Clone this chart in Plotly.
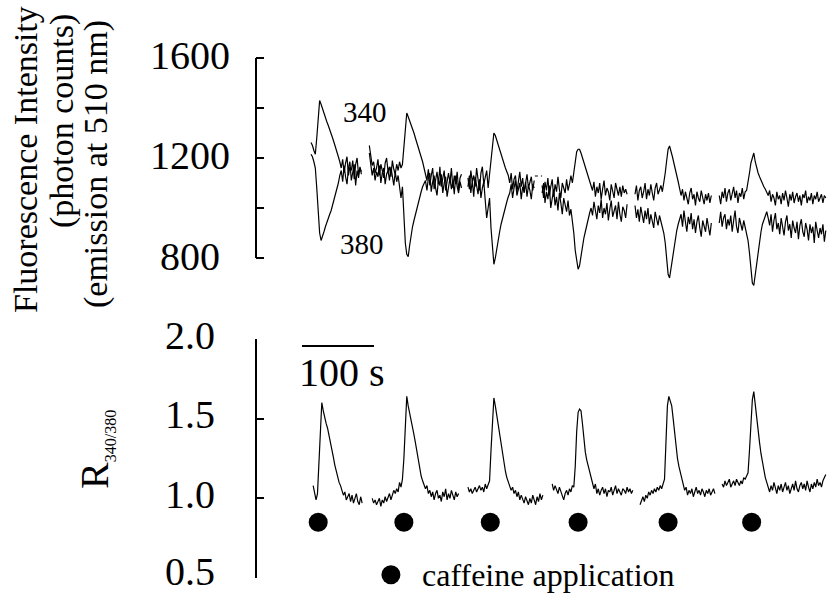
import plotly.graph_objects as go

FONT = "Liberation Serif, Times New Roman, Times, DejaVu Serif, serif"
DT = 2.0  # seconds between samples

# ---------------- data ----------------
# segment start times (s) of the recording pieces
top_starts = [0, 81, 218, 321, 450, 567]
ratio_starts = [3, 85, 218, 335, 457, 571]

# 340 nm excitation (photon counts)
f340 = [
    [1262, 1250, 1230, 1215, 1280, 1370, 1430, 1415, 1395, 1375, 1360, 1345, 1330, 1310, 1295, 1280, 1262, 1245, 1230, 1205, 1185,
     1160, 1195, 1140, 1180, 1205, 1130, 1165, 1150, 1190, 1115, 1175, 1200, 1135, 1160, 1145],
    [1250, 1200, 1170, 1185, 1140, 1160, 1195, 1130, 1175, 1150, 1120, 1180, 1200, 1145, 1165, 1125, 1190, 1155, 1135, 1175, 1150, 1185, 1160,
     1175, 1240, 1330, 1380, 1365, 1350, 1335, 1315, 1300, 1280, 1262, 1245, 1225, 1205, 1185, 1160, 1140,
     1110, 1155, 1090, 1130, 1160, 1075, 1120, 1145, 1095, 1165, 1085, 1125, 1150, 1070, 1115, 1140, 1100, 1160, 1080, 1130, 1095, 1145, 1070, 1120, 1135],
    [1120, 1075, 1150, 1105, 1130, 1085, 1160, 1110, 1070, 1140, 1165, 1095, 1125, 1150, 1080, 1135,
     1170, 1250, 1300, 1290, 1270, 1250, 1235, 1215, 1200, 1180, 1160, 1145, 1130,
     1100, 1140, 1075, 1115, 1130, 1065, 1105, 1145, 1085, 1120, 1060, 1110, 1135, 1080, 1100, 1125, 1070, 1110],
    [1090, 1040, 1105, 1070, 1120, 1050, 1085, 1115, 1045, 1095, 1065, 1125, 1075, 1040, 1100, 1080, 1060, 1115, 1070, 1095, 1130, 1100,
     1150, 1190, 1225, 1235, 1235, 1220, 1200, 1180, 1160, 1140, 1120, 1105, 1090,
     1070, 1105, 1045, 1085, 1060, 1100, 1035, 1075, 1110, 1050, 1080, 1065, 1030, 1095, 1060, 1040, 1100, 1070, 1050, 1085, 1045, 1090, 1060, 1075, 1055],
    [1055, 1090, 1030, 1070, 1085, 1040, 1065, 1100, 1035, 1075, 1050, 1095, 1060, 1030, 1080, 1100, 1055, 1070, 1090, 1065, 1100,
     1140, 1190, 1235, 1248, 1230, 1205, 1180, 1160, 1130, 1105, 1080,
     1050, 1075, 1030, 1065, 1045, 1015, 1060, 1080, 1035, 1055, 1010, 1065, 1040, 1025, 1070, 1045, 1015, 1055, 1030, 1060, 1020, 1050],
    [1050, 1015, 1065, 1040, 1080, 1025, 1060, 1075, 1030, 1055, 1085, 1040, 1070, 1020, 1060, 1045, 1080, 1035, 1065, 1070,
     1100, 1140, 1180, 1205, 1220, 1185, 1160, 1140, 1125, 1110, 1095, 1085, 1075, 1060, 1050,
     1070, 1025, 1055, 1040, 1010, 1065, 1035, 1050, 1015, 1060, 1030, 1070, 1040, 1005, 1055, 1030, 1065, 1020, 1045, 1060,
     1025, 1050, 1010, 1055, 1040, 1070, 1020, 1045, 1030, 1060, 1015, 1050, 1035, 1065, 1025, 1045, 1055, 1020, 1050, 1040],
]

# 380 nm excitation (photon counts)
f380 = [
    [1215, 1205, 1185, 1160, 1080, 980, 900, 870, 885, 905, 925, 945, 960, 975, 990, 1010, 1030, 1050, 1070, 1100, 1130,
     1150, 1105, 1170, 1125, 1095, 1160, 1185, 1110, 1140, 1175, 1090, 1150, 1120, 1165, 1135],
    [1220, 1175, 1130, 1160, 1110, 1145, 1125, 1170, 1100, 1140, 1160, 1095, 1135, 1150, 1110, 1165, 1120, 1090, 1145, 1105, 1130, 1070, 1040,
     1085, 960, 860, 815, 805, 850, 895, 925, 950, 975, 1000, 1025, 1045, 1065, 1085, 1100, 1110,
     1070, 1120, 1140, 1065, 1105, 1130, 1080, 1050, 1115, 1090, 1135, 1060, 1100, 1125, 1045, 1095, 1120, 1075, 1110, 1055, 1130, 1085, 1060, 1105, 1080],
    [1085, 1130, 1060, 1110, 1045, 1125, 1090, 1055, 1115, 1040, 1080, 1105, 1030, 960, 1000, 1040,
     920, 830, 775, 800, 840, 875, 905, 935, 960, 985, 1005, 1025, 1045,
     1060, 1095, 1040, 1080, 1110, 1050, 1075, 1100, 1035, 1085, 1065, 1105, 1045, 1090, 1070, 1035, 1095, 1080],
    [1060, 1100, 1020, 1065, 1035, 1090, 1000, 1050, 1075, 1010, 1045, 990, 1060, 1020, 975, 1040, 1005, 985, 1030, 970, 995, 950,
     900, 830, 780, 755, 770, 810, 850, 880, 905, 935, 960, 980, 1000,
     970, 1025, 990, 955, 1010, 980, 1035, 960, 1000, 975, 1020, 950, 995, 1030, 965, 985, 1010, 955, 1025, 975, 945, 1005, 990, 960, 1015],
    [1010, 960, 995, 945, 1005, 970, 940, 990, 955, 1000, 935, 975, 950, 920, 985, 960, 930, 970, 945, 915, 900,
     860, 790, 735, 720, 760, 810, 850, 885, 910, 935, 955,
     975, 925, 990, 945, 905, 965, 935, 980, 915, 955, 900, 945, 970, 920, 885, 950, 930, 905, 960, 915, 890, 940],
    [940, 985, 925, 960, 975, 915, 955, 930, 970, 905, 950, 990, 925, 900, 960, 935, 910, 950, 925, 905,
     870, 820, 750, 700, 690, 735, 790, 835, 875, 905, 935, 955, 970, 985, 960,
     930, 975, 905, 950, 980, 915, 940, 895, 960, 925, 890, 945, 970, 910, 935, 880, 950, 920, 900, 945,
     875, 930, 955, 905, 885, 940, 915, 870, 935, 900, 925, 860, 945, 910, 880, 920, 895, 935, 865, 910],
]

# ratio R340/380
ratio = [
    [1.08, 1.02, 0.99, 1.03, 1.20, 1.45, 1.60, 1.55, 1.50, 1.47, 1.44, 1.40, 1.36, 1.31, 1.26, 1.21, 1.17, 1.13, 1.10, 1.08, 1.05,
     1.02, 1.04, 0.99, 1.01, 1.03, 0.98, 1.02, 0.97, 1.00, 1.03, 0.98, 0.96, 1.01, 0.97],
    [1.00, 0.97, 0.99, 0.96, 0.98, 1.00, 0.95, 0.99, 0.97, 1.01, 0.98, 1.00, 1.03, 0.99, 1.02, 1.05, 1.03, 1.06, 1.04, 1.10,
     1.07, 1.12, 1.25, 1.50, 1.64, 1.58, 1.54, 1.50, 1.45, 1.40, 1.35, 1.29, 1.23, 1.18, 1.14, 1.11, 1.09,
     1.06, 1.08, 1.03, 1.05, 1.01, 1.04, 0.99, 1.03, 1.05, 1.00, 1.02, 0.98, 1.04, 1.01, 1.06, 0.99, 1.03, 1.00, 1.05, 1.02, 0.99, 1.04, 1.01, 1.03],
    [1.07, 1.04, 1.06, 1.03, 1.05, 1.07, 1.04, 1.06, 1.08, 1.05, 1.07, 1.04, 1.09, 1.06, 1.08, 1.11,
     1.30, 1.52, 1.63, 1.58, 1.52, 1.45, 1.40, 1.35, 1.28, 1.22, 1.17, 1.13, 1.10, 1.08,
     1.05, 1.07, 1.03, 1.05, 1.01, 1.04, 0.99, 1.02, 1.00, 0.97, 1.01, 0.98, 0.96, 1.00, 0.97, 1.02, 0.99, 0.96, 1.01, 0.98, 1.03, 0.99, 1.02],
    [1.09, 1.05, 1.08, 1.06, 1.03, 1.07, 1.04, 1.01, 0.99, 1.03, 1.05, 1.02, 1.06, 1.04, 1.08, 1.07,
     1.20, 1.42, 1.54, 1.56, 1.55, 1.47, 1.36, 1.29, 1.24, 1.20, 1.17, 1.14,
     1.10, 1.06, 1.09, 1.03, 1.06, 1.02, 1.05, 1.07, 1.03, 1.06, 1.01, 1.05, 1.04, 1.07, 1.02, 1.05, 1.08, 1.03, 1.06, 1.04, 1.02,
     1.06, 1.05, 1.03, 1.07, 1.04, 1.06, 1.03, 1.05],
    [0.96, 0.99, 1.01, 0.98, 1.02, 1.00, 1.04, 1.02, 1.05, 1.03, 1.06, 1.04, 1.07, 1.05, 1.08, 1.06, 1.09, 1.12,
     1.35, 1.58, 1.64, 1.61, 1.58, 1.50, 1.40, 1.31, 1.25, 1.20, 1.16, 1.12, 1.09,
     1.05, 1.07, 1.02, 1.05, 1.03, 1.06, 1.01, 1.04, 1.07, 1.03, 1.05, 1.02, 1.06, 1.04, 1.01, 1.05, 1.03, 1.06, 1.02, 1.04, 1.06, 1.03],
    [1.09, 1.07, 1.11, 1.08, 1.10, 1.12, 1.07, 1.09, 1.11, 1.08, 1.12, 1.10, 1.08, 1.11, 1.09, 1.13, 1.12, 1.14, 1.16,
     1.30, 1.50, 1.62, 1.67, 1.58, 1.50, 1.42, 1.35, 1.28, 1.22, 1.17, 1.13, 1.10, 1.07,
     1.04, 1.08, 1.05, 1.10, 1.06, 1.03, 1.08, 1.05, 1.09, 1.04, 1.07, 1.10, 1.05, 1.08, 1.03, 1.07, 1.09, 1.05, 1.11, 1.06,
     1.04, 1.08, 1.10, 1.06, 1.09, 1.05, 1.11, 1.07, 1.04, 1.09, 1.06, 1.10, 1.07, 1.12, 1.08, 1.10, 1.07, 1.11, 1.13, 1.15],
]

caffeine_times = [10, 129, 249, 371, 496, 612]
caffeine_level = 0.85

top_ticks = [800, 1000, 1200, 1400, 1600]
top_ticklabels = ["800", "", "1200", "", "1600"]
ratio_ticks = [0.5, 1.0, 1.5, 2.0]
ratio_ticklabels = ["0.5", "1.0", "1.5", "2.0"]

# ---------------- helpers ----------------
def join_segments(starts, segs):
    xs, ys = [], []
    for s, vals in zip(starts, segs):
        xs += [s + DT * i for i in range(len(vals))] + [None]
        ys += list(vals) + [None]
    return xs, ys

fig = go.Figure()
line = dict(color="black", width=1.2)

x, y = join_segments(top_starts, f340)
fig.add_trace(go.Scatter(x=x, y=y, mode="lines", line=line, xaxis="x", yaxis="y", connectgaps=False))
x, y = join_segments(top_starts, f380)
fig.add_trace(go.Scatter(x=x, y=y, mode="lines", line=line, xaxis="x", yaxis="y", connectgaps=False))
# small dotted bridge between pieces 3 and 4
fig.add_trace(go.Scatter(x=[311, 321], y=[1128, 1128], mode="lines",
                         line=dict(color="black", width=1, dash="dot"), xaxis="x", yaxis="y"))

x, y = join_segments(ratio_starts, ratio)
fig.add_trace(go.Scatter(x=x, y=y, mode="lines", line=line, xaxis="x2", yaxis="y2", connectgaps=False))

fig.add_trace(go.Scatter(x=caffeine_times, y=[caffeine_level] * len(caffeine_times), mode="markers",
                         marker=dict(color="black", size=19), xaxis="x2", yaxis="y2"))
# legend dot
fig.add_trace(go.Scatter(x=[111], y=[0.52], mode="markers", marker=dict(color="black", size=19),
                         xaxis="x2", yaxis="y2", cliponaxis=False))

W, H = 828, 595
L = 256
xr = [(256 - 311) / 0.72, (828 - 311) / 0.72]

axis_common = dict(showgrid=False, zeroline=False, showline=False, ticks="inside",
                   ticklen=8, tickwidth=1.5, tickcolor="black", showticklabels=False)

fig.update_layout(
    width=W, height=H,
    margin=dict(l=L, r=0, t=0, b=0),
    paper_bgcolor="white", plot_bgcolor="white",
    showlegend=False,
    font=dict(family=FONT, color="black"),
    xaxis=dict(domain=[0, 1], range=xr, visible=False),
    xaxis2=dict(domain=[0, 1], range=xr, visible=False, anchor="y2"),
    yaxis=dict(domain=[(H - 298) / H, (H - 43) / H], range=[640, 1660], tickvals=top_ticks, **axis_common),
    yaxis2=dict(domain=[17 / H, 256 / H], range=[0.5, 2.0], tickvals=ratio_ticks, anchor="x2", **axis_common),
)

shapes = [
    dict(type="line", xref="paper", yref="y", x0=0, x1=0, y0=800, y1=1600, line=dict(color="black", width=2)),
    dict(type="line", xref="paper", yref="y2", x0=0, x1=0, y0=0.5, y1=2.0, line=dict(color="black", width=2)),
    # 100 s scale bar
    dict(type="line", xref="x2", yref="y2", x0=-12.5, x1=87.5, y0=1.956, y1=1.956, line=dict(color="black", width=2)),
]
fig.update_layout(shapes=shapes)

def px2paperx(px):
    return (px - L) / (W - L)

def px2papery(py):
    return (H - py) / H

def f(size):
    return dict(family=FONT, size=size, color="black")

ann = []
for v, t in zip(top_ticks, top_ticklabels):
    if t:
        ann.append(dict(xref="paper", yref="y", x=px2paperx(190), y=v, text=t, showarrow=False,
                        xanchor="center", yanchor="middle", yshift=2, font=f(40)))
for v, t in zip(ratio_ticks, ratio_ticklabels):
    ann.append(dict(xref="paper", yref="y2", x=px2paperx(190), y=v, text=t, showarrow=False,
                    xanchor="center", yanchor="middle", yshift=(7 if v == 0.5 else 4), font=f(40)))

# y titles
ann.append(dict(xref="paper", yref="paper", x=px2paperx(25), y=px2papery(160), text="Fluorescence Intensity",
                textangle=-90, showarrow=False, xanchor="center", yanchor="middle", font=f(34)))
ann.append(dict(xref="paper", yref="paper", x=px2paperx(62), y=px2papery(121), text="(photon counts)",
                textangle=-90, showarrow=False, xanchor="center", yanchor="middle", font=f(34)))
ann.append(dict(xref="paper", yref="paper", x=px2paperx(96), y=px2papery(164), text="(emission at 510 nm)",
                textangle=-90, showarrow=False, xanchor="center", yanchor="middle", font=f(34)))
ann.append(dict(xref="paper", yref="paper", x=px2paperx(95), y=px2papery(450),
                text="R<sub><span style='font-size:16px'>340/380</span></sub>",
                textangle=-90, showarrow=False, xanchor="center", yanchor="middle", font=f(40)))

# trace labels
ann.append(dict(xref="x", yref="y", x=75, y=1384, text="340", showarrow=False, font=f(29)))
ann.append(dict(xref="x", yref="y", x=71, y=856, text="380", showarrow=False, font=f(29)))

# scale bar label
ann.append(dict(xref="x2", yref="y2", x=43, y=1.79, text="100 s", showarrow=False, font=f(40)))
# legend text
ann.append(dict(xref="x2", yref="y2", x=151, y=0.52, text="caffeine application", showarrow=False,
                xanchor="left", yanchor="middle", font=f(32)))

fig.update_layout(annotations=ann)
fig.write_html("out.html")
